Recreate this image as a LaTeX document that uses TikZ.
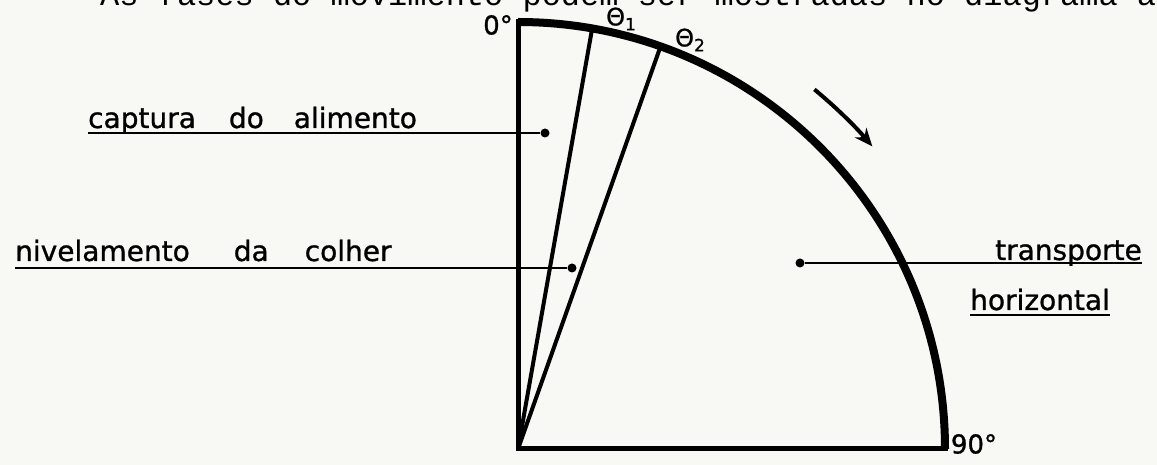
\documentclass[tikz,border=0pt]{standalone}
\usepackage{fontspec}
\newfontfamily\lettering[FakeBold=1]{DejaVu Sans}
\newfontfamily\typewriter{Liberation Mono}
\usetikzlibrary{arrows.meta,calc}
\definecolor{paper}{RGB}{248,249,244}

% phase angle with its index
\newcommand{\phaseangle}[1]{Θ\raisebox{-5pt}{\fontsize{17}{17}\selectfont #1}}

\begin{document}
\begin{tikzpicture}[
  x=1pt, y=1pt,
  every node/.style={inner sep=0pt},
  lab/.style={font=\lettering\fontsize{28}{28}\selectfont, anchor=base west},
  tick/.style={font=\lettering\fontsize{26}{26}\selectfont},
  angl/.style={font=\lettering\fontsize{24}{24}\selectfont},
  dot/.style={circle, fill=black, minimum size=9pt},
  rim/.style={line width=8pt},
  axis/.style={line width=5pt, line cap=rect},
  ray/.style={line width=4pt},
  lead/.style={line width=2.2pt},
]

%% Paper
\useasboundingbox (0,0) rectangle (1157,465);
\fill[paper] (0,0) rectangle (1157,465);
\clip (0,0) rectangle (1157,465);

%% Line of the typed page above the figure
\node[anchor=base west, font=\typewriter\fontsize{32}{32}\selectfont] (intro)
  at (100,459) {As fases do movimento podem ser mostradas no diagrama a};

%% Quadrant: pivot at the lower left, radius 427
\coordinate (pivot) at (518,16);
\coordinate (top)   at ($(pivot)+(90:427)$);
\coordinate (right) at ($(pivot)+(0:427)$);
\coordinate (th1)   at ($(pivot)+(80:427)$);
\coordinate (th2)   at ($(pivot)+(70.5:427)$);

\draw[rim] (top) arc[start angle=90, end angle=0, radius=427];
\draw[axis] (top) -- (pivot) -- (right);
\draw[ray] (pivot) -- (th1);
\draw[ray] (pivot) -- (th2);

%% Angle marks
\node[tick] (zero)   at (498,440) {0°};
\node[tick] (ninety) at (974,21)  {90°};
\node[angl] (lab1) at (621,446) {\phaseangle{1}};
\node[angl] (lab2) at (690,425) {\phaseangle{2}};

%% Sense of rotation
\coordinate (turnA) at ($(pivot)+(50.5:466)$);
\draw[line width=4pt, -{Stealth[length=18pt, width=15pt]}]
  (turnA) arc[start angle=50.5, end angle=40.5, radius=466];

%% Phases
\node[dot] (capdot) at (545,332) {};
\node[dot] (nivdot) at (572,197) {};
\node[dot] (trdot)  at (800,202) {};

\node[lab] (captura) at (88,337)
  {captura\hspace{33pt}do\hspace{30pt}alimento};
\node[lab] (nivel) at (15,204)
  {nivelamento\hspace{44pt}da\hspace{36pt}colher};
\node[lab] (transp) at (995,205) {transporte};
\node[lab] (horiz)  at (970,155) {horizontal};

\draw[lead] (captura.base west |- capdot) -- (capdot);
\draw[lead] (nivel.base west |- nivdot) -- (nivdot);
\draw[lead] (trdot) -- (transp.base east |- trdot);
\draw[lead] ([yshift=-5pt]horiz.base west) -- ([yshift=-5pt]horiz.base east);

\end{tikzpicture}
\end{document}
